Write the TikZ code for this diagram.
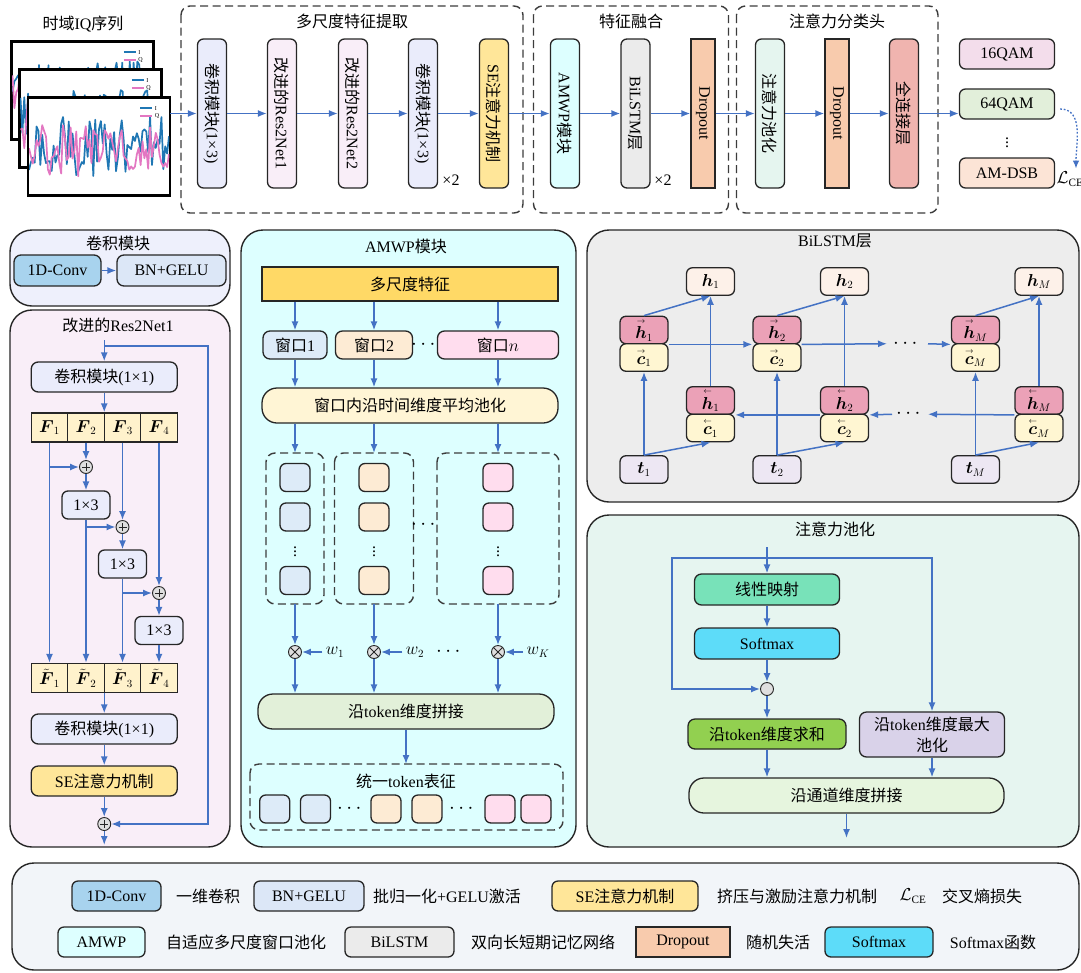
\documentclass[tikz,border=0pt]{standalone}
\usepackage{amsmath}
\usepackage{fontspec}
\setmainfont{Liberation Serif}
\newfontfamily\cjk{Noto Sans CJK SC}
\usetikzlibrary{arrows.meta}
\newcommand{\zhs}[1]{{\cjk #1}}
\newcommand{\fw}[1]{\overset{\scriptscriptstyle\rightarrow}{#1}}
\newcommand{\bw}[1]{\overset{\scriptscriptstyle\leftarrow}{#1}}
\definecolor{arrowblue}{HTML}{4472C4}
\definecolor{linec}{HTML}{262626}
\definecolor{convbox}{HTML}{EAECFB}
\definecolor{resbox}{HTML}{F9EEF8}
\definecolor{sebox}{HTML}{FFE699}
\definecolor{amwpbox}{HTML}{DDFFFF}
\definecolor{lstmbox}{HTML}{EBEBEB}
\definecolor{dropbox}{HTML}{F8CBAD}
\definecolor{apbox}{HTML}{E5F5EF}
\definecolor{fcbox}{HTML}{F0B4AF}
\definecolor{qsixteen}{HTML}{F3DDEB}
\definecolor{qsixtyfour}{HTML}{E2EFDA}
\definecolor{dsbbox}{HTML}{FCE4D6}
\definecolor{convone}{HTML}{A8D3EE}
\definecolor{bngelu}{HTML}{DCE7F7}
\definecolor{convpanel}{HTML}{EEF0FC}
\definecolor{respanel}{HTML}{F9EEF8}
\definecolor{amwppanel}{HTML}{DDFFFF}
\definecolor{lstmpanel}{HTML}{EDEDED}
\definecolor{appanel}{HTML}{E6F5F0}
\definecolor{legpanel}{HTML}{F2F5F9}
\definecolor{fcell}{HTML}{FFF2CC}
\definecolor{featbar}{HTML}{FFD966}
\definecolor{winblue}{HTML}{DDEBF8}
\definecolor{winpeach}{HTML}{FDEBD4}
\definecolor{winpink}{HTML}{FFDDEE}
\definecolor{poolbox}{HTML}{FFF5D5}
\definecolor{catbox}{HTML}{E2F0D9}
\definecolor{hout}{HTML}{FDF1E9}
\definecolor{hcell}{HTML}{EBA1B7}
\definecolor{ccell}{HTML}{FFF6D2}
\definecolor{tbox}{HTML}{EDE7F3}
\definecolor{linbox}{HTML}{78E2B9}
\definecolor{smbox}{HTML}{5DDCF9}
\definecolor{sumbox}{HTML}{92D050}
\definecolor{maxbox}{HTML}{D9D2E9}
\definecolor{chbox}{HTML}{E6F5DE}
\definecolor{iqblue}{HTML}{1F77B4}
\definecolor{iqpink}{HTML}{E377C2}
\tikzset{
  every node/.style={font=\fontsize{16}{19}\selectfont},
  blk/.style={draw=linec, line width=1.3pt, align=center, inner sep=1pt},
  vblk/.style={blk, rounded corners=6pt, rotate=-90, minimum width=149pt, minimum height=29pt},
  wideblk/.style={blk, rounded corners=7pt, minimum width=146pt, minimum height=30pt},
  smallblk/.style={blk, fill=convbox, rounded corners=6pt, minimum width=48pt, minimum height=28pt},
  splitcell/.style={blk, fill=fcell, minimum width=36.5pt, minimum height=29pt},
  winblk/.style={blk, rounded corners=7pt, minimum height=28pt},
  tokblk/.style={blk, rounded corners=6pt, minimum width=30pt, minimum height=28pt},
  hcellst/.style={blk, fill=hcell, rounded corners=6pt, minimum width=48pt, minimum height=27.5pt},
  ccellst/.style={blk, fill=ccell, rounded corners=6pt, minimum width=48pt, minimum height=27.5pt},
  houtst/.style={blk, fill=hout, rounded corners=6pt, minimum width=48pt, minimum height=27.5pt},
  tinst/.style={blk, fill=tbox, rounded corners=6pt, minimum width=48pt, minimum height=27.5pt},
  atblk/.style={blk, rounded corners=7pt, minimum height=31pt},
  outblk/.style={blk, rounded corners=6pt, minimum width=95pt, minimum height=30pt},
  legblk/.style={blk, rounded corners=6pt, minimum height=30pt},
  dotsl/.style={inner sep=0pt, font=\fontsize{22}{22}\selectfont},
  vdotsl/.style={inner sep=0pt, font=\fontsize{16}{16}\selectfont},
  flowarrow/.style={draw=arrowblue, line width=1.5pt, -{Latex[length=9pt,width=7pt]}},
  dotarrow/.style={draw=arrowblue, line width=1.3pt, dash pattern=on 1.8pt off 1.8pt, -{Latex[length=8pt,width=6.5pt]}},
  grpframe/.style={draw=linec!90, line width=1.4pt, dash pattern=on 8pt off 4.5pt, rounded corners=9pt},
  panelbg/.style={draw=linec, line width=1.4pt, rounded corners=22pt},
  opnode/.style={circle, draw=linec, fill=gray!25, line width=0.9pt, minimum size=13pt, inner sep=0pt},
  addop/.style={opnode, path picture={\draw[line width=0.9pt]
    ([yshift=-4pt]path picture bounding box.center) -- ([yshift=4pt]path picture bounding box.center)
    ([xshift=-4pt]path picture bounding box.center) -- ([xshift=4pt]path picture bounding box.center);}},
  mulop/.style={opnode, path picture={\draw[line width=0.9pt]
    (path picture bounding box.north west) -- (path picture bounding box.south east)
    (path picture bounding box.south west) -- (path picture bounding box.north east);}},
  dotop/.style={opnode, path picture={\fill (path picture bounding box.center) circle (1.2pt);}},
  plotframe/.style={draw=black, fill=white, line width=1.8pt, minimum width=141pt, minimum height=97pt, inner sep=0pt},
  iqI/.style={draw=iqblue, line width=1.7pt, line join=round},
  iqQ/.style={draw=iqpink, line width=1.7pt, line join=round},
  tinylbl/.style={right=1pt, font=\fontsize{6}{7}\selectfont, inner sep=0.5pt, text=black},
}
\begin{document}
\begin{tikzpicture}[x=1pt,y=-1pt]
\useasboundingbox (0,0) rectangle (1081,972);

\node (iqt) at (83,24) {\zhs{时域}IQ\zhs{序列}};
\pgfmathsetseed{11}
\foreach \f/\cx/\cy in {iq1/82.5/90.5, iq2/90.5/118.5, iq3/99/146.5}{
  \pgfmathsetmacro\xa{\cx-70}
  \pgfmathsetmacro\xb{\cx+70}
  \node[plotframe] (\f) at (\cx,\cy) {};
  \begin{scope}
    \clip ([shift={(1pt,-1pt)}]\f.north west) rectangle ([shift={(-1pt,1pt)}]\f.south east);
    \draw[iqI] plot[domain=\xa:\xb, samples=75] (\x,{\cy+30*rand});
    \draw[iqQ] plot[domain=\xa:\xb, samples=75] (\x,{\cy+4+26*rand});
  \end{scope}
  \draw[line width=1.8pt] (\f.north west) rectangle (\f.south east);
  \draw[iqI] ([shift={(-30pt,-11pt)}]\f.north east) -- ++(12pt,0pt) node[tinylbl] {I};
  \draw[iqQ] ([shift={(-30pt,-19pt)}]\f.north east) -- ++(12pt,0pt) node[tinylbl] {Q};
}

\draw[grpframe] (181,6) rectangle (523,213);
\draw[grpframe] (533.5,6) rectangle (728.5,213);
\draw[grpframe] (736.5,6) rectangle (938,213);
\node (gt1) at (352,21) {\zhs{多尺度特征提取}};
\node (gt2) at (631,21) {\zhs{特征融合}};
\node (gt3) at (837,21) {\zhs{注意力分类头}};

\node[vblk, fill=convbox] (cv1) at (212,113.5) {\zhs{卷积模块}(1×3)};
\node[vblk, fill=resbox] (rn1) at (282,113.5) {\zhs{改进的}Res2Net1};
\node[vblk, fill=resbox] (rn2) at (353,113.5) {\zhs{改进的}Res2Net2};
\node[vblk, fill=convbox] (cv2) at (423,113.5) {\zhs{卷积模块}(1×3)};
\node[vblk, fill=sebox] (se1) at (494,113.5) {SE\zhs{注意力机制}};
\node[vblk, fill=amwpbox] (amwp) at (565,113.5) {AMWP\zhs{模块}};
\node[vblk, fill=lstmbox] (lstm) at (635.5,113.5) {BiLSTM\zhs{层}};
\node[vblk, fill=dropbox, rounded corners=0pt, minimum height=24pt] (dp1) at (703,113.5) {Dropout};
\node[vblk, fill=apbox] (apool) at (770,113.5) {\zhs{注意力池化}};
\node[vblk, fill=dropbox, rounded corners=0pt, minimum height=24pt] (dp2) at (837,113.5) {Dropout};
\node[vblk, fill=fcbox] (dense) at (904,113.5) {\zhs{全连接层}};
\node (x2a) at (451,180) {×2};
\node (x2b) at (663,180) {×2};
\draw[flowarrow] (iq3.east |- cv1) -- (cv1);
\foreach \a/\b in {cv1/rn1, rn1/rn2, rn2/cv2, cv2/se1, se1/amwp, amwp/lstm, lstm/dp1, dp1/apool, apool/dp2, dp2/dense}
  \draw[flowarrow] (\a) -- (\b);

\node[outblk, fill=qsixteen] (q16) at (1007,54) {16QAM};
\node[outblk, fill=qsixtyfour] (q64) at (1007,104) {64QAM};
\node[vdotsl] (qdots) at (1007,140) {$\vdots$};
\node[outblk, fill=dsbbox] (dsb) at (1007,173) {AM-DSB};
\node[inner sep=1pt] (lce) at (1070,179) {$\mathcal{L}_{\mathrm{CE}}$};
\draw[flowarrow] (dense) -- (dense -| q64.west);
\draw[dotarrow] ([shift={(5pt,-5pt)}]q64.east) to[out=0,in=90] ([xshift=6pt,yshift=2pt]lce.north);

\draw[panelbg, fill=convpanel] (10,230) rectangle (230,306);
\node (cvt) at (118,243) {\zhs{卷积模块}};
\node[blk, fill=convone, rounded corners=7pt, minimum width=87pt, minimum height=31pt] (conv1d) at (57.5,270.5) {1D-Conv};
\node[blk, fill=bngelu, rounded corners=7pt, minimum width=109pt, minimum height=31pt] (bng) at (171.5,270.5) {BN+GELU};
\draw[flowarrow] (conv1d) -- (bng);

\draw[panelbg, fill=respanel] (10,310) rectangle (230,847);
\node (rnt) at (118,325) {\zhs{改进的}Res2Net1};
\coordinate (rin) at (104.25,340);
\coordinate (rsa) at (104.25,346);
\coordinate (rsb) at (208,346);
\node[wideblk, fill=convbox] (pw1) at (104.25,377) {\zhs{卷积模块}(1×1)};
\foreach \i/\x in {1/49.5, 2/86, 3/122.5, 4/159}{
  \node[splitcell] (f\i) at (\x,427.5) {$\boldsymbol{F}_{\i}$};
  \node[splitcell] (g\i) at (\x,678) {$\tilde{\boldsymbol{F}}_{\i}$};
}
\node[addop] (ad1) at (86,467) {};
\node[smallblk] (k1) at (86,505) {1×3};
\node[addop] (ad2) at (122.5,527) {};
\node[smallblk] (k2) at (122.5,564) {1×3};
\node[addop] (ad3) at (159,593) {};
\node[smallblk] (k3) at (159,630.5) {1×3};
\node[wideblk, fill=convbox] (pw2) at (104.25,729) {\zhs{卷积模块}(1×1)};
\node[wideblk, fill=sebox] (se2) at (104.25,781) {SE\zhs{注意力机制}};
\node[addop] (ad4) at (104.25,824) {};
\coordinate (rout) at (104.25,845);
\draw[flowarrow] (rin) -- (pw1);
\draw[flowarrow] (rsa) -- (rsb) |- (ad4);
\draw[flowarrow] (pw1) -- (pw1 |- f2.north);
\draw[flowarrow] (f1) -- (g1);
\draw[flowarrow] (f1.south |- ad1) -- (ad1);
\draw[flowarrow] (f2) -- (ad1);
\draw[flowarrow] (ad1) -- (k1);
\draw[flowarrow] (k1) -- (g2);
\draw[flowarrow] (k1.south |- ad2) -- (ad2);
\draw[flowarrow] (f3) -- (ad2);
\draw[flowarrow] (ad2) -- (k2);
\draw[flowarrow] (k2) -- (g3);
\draw[flowarrow] (k2.south |- ad3) -- (ad3);
\draw[flowarrow] (f4) -- (ad3);
\draw[flowarrow] (ad3) -- (k3);
\draw[flowarrow] (k3) -- (g4);
\draw[flowarrow] (pw2 |- g2.south) -- (pw2);
\draw[flowarrow] (pw2) -- (se2);
\draw[flowarrow] (se2) -- (ad4);
\draw[flowarrow] (ad4) -- (rout);

\draw[panelbg, fill=amwppanel] (241,230) rectangle (576,847);
\node (amt) at (406,246) {AMWP\zhs{模块}};
\node[blk, fill=featbar, minimum width=296pt, minimum height=34pt] (feat) at (410,284) {\zhs{多尺度特征}};
\node[winblk, fill=winblue, minimum width=64pt] (wd1) at (295,345) {\zhs{窗口}1};
\node[winblk, fill=winpeach, minimum width=77pt] (wd2) at (374,345) {\zhs{窗口}2};
\node[winblk, fill=winpink, minimum width=121pt] (wdn) at (498,345) {\zhs{窗口}$n$};
\node[dotsl] (wdots) at (425,345) {$\cdots$};
\node[blk, fill=poolbox, rounded corners=15pt, minimum width=296pt, minimum height=35pt] (avg) at (410,405.5) {\zhs{窗口内沿时间维度平均池化}};
\foreach \w in {wd1, wd2, wdn}{
  \draw[flowarrow] (feat.south -| \w) -- (\w);
  \draw[flowarrow] (\w) -- (\w |- avg.north);
}
\foreach \g/\x/\gw/\col in {tk1/295/58/winblue, tk2/374/79/winpeach, tk3/498/122/winpink}{
  \draw[grpframe] (\x-\gw/2,453) rectangle (\x+\gw/2,604);
  \coordinate (\g-top) at (\x,453);
  \coordinate (\g-bot) at (\x,604);
  \draw[flowarrow] (avg.south -| \g-top) -- (\g-top);
  \node[tokblk, fill=\col] (\g-a) at (\x,477.5) {};
  \node[tokblk, fill=\col] (\g-b) at (\x,517) {};
  \node[vdotsl] (\g-v) at (\x,549) {$\vdots$};
  \node[tokblk, fill=\col] (\g-c) at (\x,580.5) {};
}
\node[dotsl] (tkdots) at (425,525) {$\cdots$};
\foreach \g/\m/\x/\lx/\lab in {tk1/mu1/295/335/w_1, tk2/mu2/374/415/w_2, tk3/mu3/498/538/w_K}{
  \node[mulop] (\m) at (\x,652) {};
  \node (\m w) at (\lx,652) {$\lab$};
  \draw[flowarrow] (\g-bot) -- (\m);
  \draw[flowarrow] (\m w) -- (\m);
}
\node[dotsl] (mdots) at (450,652) {$\cdots$};
\node[blk, fill=catbox, rounded corners=15pt, minimum width=296pt, minimum height=35pt] (tcat) at (406,711.5) {\zhs{沿}token\zhs{维度拼接}};
\foreach \m in {mu1, mu2, mu3}
  \draw[flowarrow] (\m) -- (\m |- tcat.north);
\draw[grpframe] (250,764) rectangle (563,830);
\coordinate (unitop) at (406,764);
\draw[flowarrow] (tcat) -- (unitop);
\node (unit) at (406,781) {\zhs{统一}token\zhs{表征}};
\foreach \n/\x/\col in {u1/274.7/winblue, u2/315.5/winblue, u3/386/winpeach, u4/427/winpeach, u5/500/winpink, u6/536/winpink}
  \node[tokblk, fill=\col] (\n) at (\x,809) {};
\node[dotsl] (ud1) at (351,809) {$\cdots$};
\node[dotsl] (ud2) at (463,809) {$\cdots$};

\draw[panelbg, fill=lstmpanel] (587,230) rectangle (1079,502);
\node (lst) at (835,241) {BiLSTM\zhs{层}};
\foreach \idx/\fx/\bx in {1/644/710.5, 2/777/844.5, M/975.5/1039}{
  \node[hcellst] (fh\idx) at (\fx,330) {$\fw{\boldsymbol{h}}_{\idx}$};
  \node[ccellst] (fc\idx) at (\fx,357.5) {$\fw{\boldsymbol{c}}_{\idx}$};
  \node[hcellst] (bh\idx) at (\bx,400.5) {$\bw{\boldsymbol{h}}_{\idx}$};
  \node[ccellst] (bc\idx) at (\bx,428) {$\bw{\boldsymbol{c}}_{\idx}$};
  \node[houtst] (ho\idx) at (\bx,281.5) {$\boldsymbol{h}_{\idx}$};
  \node[tinst] (ti\idx) at (\fx,469.5) {$\boldsymbol{t}_{\idx}$};
  \draw[flowarrow] (ti\idx) -- (fc\idx);
  \draw[flowarrow] (ti\idx.north) -- (bc\idx.south);
  \draw[flowarrow] (fh\idx.north) -- (ho\idx.south);
  \draw[flowarrow] (bh\idx) -- (ho\idx);
}
\coordinate (fa) at (887,343.75);
\coordinate (fb) at (928,343.75);
\coordinate (ba) at (892,414.25);
\coordinate (bb) at (928,414.25);
\draw[flowarrow] (fh1.south east) -- (fh2.south west);
\draw[flowarrow] (fh2.south east) -- (fa);
\node[dotsl] (fdots) at (907,343.75) {$\cdots$};
\draw[flowarrow] (fb) -- (fhM.south west);
\draw[flowarrow] (bh2.south west) -- (bh1.south east);
\draw[flowarrow] (ba) -- (bh2.south east);
\node[dotsl] (bdots) at (910,414.25) {$\cdots$};
\draw[flowarrow] (bhM.south west) -- (bb);

\draw[panelbg, fill=appanel] (587,515) rectangle (1079,847);
\node (apt) at (835,529) {\zhs{注意力池化}};
\coordinate (apin) at (767,547);
\coordinate (apsplit) at (767,558);
\coordinate (lskip) at (672,558);
\coordinate (rskip) at (932,558);
\node[atblk, fill=linbox, minimum width=145pt] (lin) at (767,589.5) {\zhs{线性映射}};
\node[atblk, fill=smbox, minimum width=145pt] (smx) at (767,643.5) {Softmax};
\node[dotop] (hada) at (767,689) {};
\node[atblk, fill=sumbox, minimum width=158pt, minimum height=30pt] (tsum) at (767,734) {\zhs{沿}token\zhs{维度求和}};
\node[atblk, fill=maxbox, minimum width=145pt, minimum height=45pt] (tmax) at (932,734.5) {\zhs{沿}token\zhs{维度最大}\\[2pt]\zhs{池化}};
\node[blk, fill=chbox, rounded corners=15pt, minimum width=315pt, minimum height=35pt] (chcat) at (846.5,795.5) {\zhs{沿通道维度拼接}};
\coordinate (apout) at (846.5,838);
\draw[flowarrow] (apin) -- (lin);
\draw[flowarrow] (apsplit) -- (lskip) |- (hada);
\draw[flowarrow] (apsplit) -- (rskip) -- (tmax);
\draw[flowarrow] (lin) -- (smx);
\draw[flowarrow] (smx) -- (hada);
\draw[flowarrow] (hada) -- (tsum);
\draw[flowarrow] (tsum) -- (tsum |- chcat.north);
\draw[flowarrow] (tmax) -- (tmax |- chcat.north);
\draw[flowarrow] (chcat) -- (apout);

\draw[panelbg, fill=legpanel] (12,863) rectangle (1079,970);
\node[legblk, fill=convone, minimum width=89pt] (lg1) at (116.5,896) {1D-Conv};
\node (lt1) at (208,896) {\zhs{一维卷积}};
\node[legblk, fill=bngelu, minimum width=110pt] (lg2) at (309,896) {BN+GELU};
\node (lt2) at (447,896) {\zhs{批归一化}+GELU\zhs{激活}};
\node[legblk, fill=sebox, minimum width=146pt] (lg3) at (625,896) {SE\zhs{注意力机制}};
\node (lt3) at (797,896) {\zhs{挤压与激励注意力机制}};
\node (lg4) at (913,896) {$\mathcal{L}_{\mathrm{CE}}$};
\node (lt4) at (982,896) {\zhs{交叉熵损失}};
\node[legblk, fill=amwpbox, minimum width=87pt] (lg5) at (101.5,942) {AMWP};
\node (lt5) at (246,942) {\zhs{自适应多尺度窗口池化}};
\node[legblk, fill=lstmbox, minimum width=109pt] (lg6) at (399.5,942) {BiLSTM};
\node (lt6) at (543,942) {\zhs{双向长短期记忆网络}};
\node[legblk, fill=dropbox, rounded corners=0pt, minimum width=94pt] (lg7) at (683,942) {Dropout};
\node (lt7) at (778,942) {\zhs{随机失活}};
\node[legblk, fill=smbox, minimum width=108pt] (lg8) at (879,942) {Softmax};
\node (lt8) at (993,942) {Softmax\zhs{函数}};
\end{tikzpicture}
\end{document}
